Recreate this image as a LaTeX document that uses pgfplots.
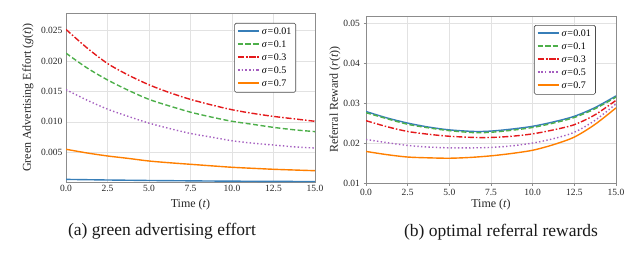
\documentclass[border=0pt]{standalone}
\usepackage{fontspec}
\setmainfont{Liberation Serif}
\usepackage{pgfplots}
\pgfplotsset{compat=1.18}
\definecolor{cBlue}{HTML}{377EB8}
\definecolor{cGreen}{HTML}{4DAF4A}
\definecolor{cRed}{HTML}{E41A1C}
\definecolor{cPurple}{HTML}{A55FC0}
\definecolor{cOrange}{HTML}{FF7F00}
\definecolor{cFrame}{HTML}{8C8C8C}
\definecolor{cGrid}{HTML}{E2E2E2}
\pgfplotsset{
  common/.style={
    anchor=south west, scale only axis,
    xmin=0, xmax=15,
    xtick={0,2.5,5,7.5,10,12.5,15},
    axis line style={cFrame, line width=0.8pt},
    grid=major, major grid style={cGrid, line width=0.6pt},
    tick label style={font=\fontsize{9.5}{11}\selectfont, text=black!85},
    label style={font=\fontsize{12}{14}\selectfont, text=black!85},
    /pgf/number format/assume math mode=true,
    xticklabel style={/pgf/number format/.cd, fixed, fixed zerofill, precision=1},
    xlabel={Time (\textit{t})},
    legend style={font=\fontsize{10}{12}\selectfont, draw=black!70, fill=white,
      rounded corners=1.5pt, inner xsep=2.5pt, inner ysep=2pt, row sep=0pt,
      line width=0.6pt, anchor=north east,
      nodes={text height=7.5pt, text depth=2.5pt, inner ysep=1.5pt}},
    legend cell align=left,
    legend image code/.code={\draw[#1, line width=1.8pt] plot coordinates {(0pt,0.5pt) (10.5pt,0.5pt) (21pt,0.5pt)};},
  },
  sA/.style={cBlue, solid, line width=1.4pt, smooth},
  sB/.style={cGreen, dash pattern=on 5pt off 2.5pt, line width=1.4pt, smooth},
  sC/.style={cRed, dash pattern=on 6pt off 2pt on 1.5pt off 2pt, line width=1.4pt, smooth},
  sD/.style={cPurple, dash pattern=on 1.4pt off 2.3pt, line width=1.4pt, smooth},
  sE/.style={cOrange, solid, line width=1.4pt, smooth},
}
\begin{document}
\begin{tikzpicture}[x=1pt,y=1pt]
\path[use as bounding box] (0,0) rectangle (636,252);
\begin{axis}[common,
  at={(66pt,70pt)}, width=249pt, height=169pt,
  ymin=0.00012, ymax=0.0279,
  ytick={0.005,0.010,0.015,0.020,0.025},
  yticklabel style={/pgf/number format/.cd, fixed, fixed zerofill, precision=3},
  scaled y ticks=false,
  major tick length=0pt,
  ylabel={Green Advertising Effort (\textit{g}(\textit{t}))},
  xlabel style={at={(axis description cs:0.5,-0.136)}, anchor=center},
  ylabel style={at={(axis description cs:-0.153,0.5)}, anchor=center},
  legend style={at={(axis description cs:0.924,0.941)}},
]
\addplot[sA] coordinates {(0,0.00055) (1.25,0.00050) (2.5,0.00045) (3.75,0.00041) (5,0.00037) (6.25,0.00034) (7.5,0.00031) (8.75,0.00028) (10,0.00026) (11.25,0.00024) (12.5,0.00022) (13.75,0.00021) (15,0.00020)};
\addlegendentry{\textit{σ}\kern0.5pt=\kern0.5pt0.01}
\addplot[sB] coordinates {(0,0.0213) (1.25,0.0189) (2.5,0.0169) (3.75,0.0152) (5,0.0137) (6.25,0.0126) (7.5,0.0116) (8.75,0.0108) (10,0.0101) (11.25,0.0096) (12.5,0.0091) (13.75,0.0087) (15,0.0084)};
\addlegendentry{\textit{σ}\kern0.5pt=\kern0.5pt0.1}
\addplot[sC] coordinates {(0,0.0252) (1.25,0.0222) (2.5,0.0196) (3.75,0.0177) (5,0.0161) (6.25,0.0148) (7.5,0.0137) (8.75,0.0128) (10,0.0120) (11.25,0.0114) (12.5,0.0109) (13.75,0.0105) (15,0.0101)};
\addlegendentry{\textit{σ}\kern0.5pt=\kern0.5pt0.3}
\addplot[sD] coordinates {(0,0.0153) (1.25,0.0136) (2.5,0.0121) (3.75,0.0109) (5,0.0098) (6.25,0.0089) (7.5,0.0081) (8.75,0.0075) (10,0.0069) (11.25,0.0065) (12.5,0.0062) (13.75,0.0059) (15,0.0057)};
\addlegendentry{\textit{σ}\kern0.5pt=\kern0.5pt0.5}
\addplot[sE] coordinates {(0,0.0055) (1.25,0.0049) (2.5,0.0044) (3.75,0.0040) (5,0.00357) (6.25,0.00328) (7.5,0.00303) (8.75,0.00278) (10,0.00254) (11.25,0.00237) (12.5,0.00221) (13.75,0.00209) (15,0.00198)};
\addlegendentry{\textit{σ}\kern0.5pt=\kern0.5pt0.7}
\end{axis}
\begin{axis}[common,
  at={(366pt,69pt)}, width=250pt, height=167pt,
  ymin=0.01, ymax=0.0518,
  ytick={0.01,0.02,0.03,0.04,0.05},
  yticklabel style={/pgf/number format/.cd, fixed, fixed zerofill, precision=2},
  scaled y ticks=false,
  tick align=outside, major tick length=2.5pt,
  every tick/.style={cFrame, line width=0.6pt},
  xtick pos=bottom, ytick pos=left,
  ylabel={Referral Reward (\textit{r}(\textit{t}))},
  xlabel style={at={(axis description cs:0.5,-0.132)}, anchor=center},
  ylabel style={at={(axis description cs:-0.124,0.5)}, anchor=center},
  legend style={at={(axis description cs:0.919,0.946)}},
]
\addplot[sA] coordinates {(0,0.0279) (1.25,0.0263) (2.5,0.0250) (3.75,0.0240) (5,0.0233) (6.5,0.0229) (7.5,0.0230) (8.75,0.0235) (10,0.0242) (11.25,0.0253) (12.5,0.0267) (13.75,0.0289) (15,0.0318)};
\addlegendentry{\textit{σ}\kern0.5pt=\kern0.5pt0.01}
\addplot[sB] coordinates {(0,0.0276) (1.25,0.0261) (2.5,0.0247) (3.75,0.0238) (5,0.0231) (6.5,0.0226) (7.5,0.0227) (8.75,0.0232) (10,0.0239) (11.25,0.0250) (12.5,0.0264) (13.75,0.0286) (15,0.0315)};
\addlegendentry{\textit{σ}\kern0.5pt=\kern0.5pt0.1}
\addplot[sC] coordinates {(0,0.0256) (1.25,0.0241) (2.5,0.0229) (3.75,0.0222) (5,0.0217) (6.5,0.0214) (7.5,0.0214) (8.75,0.0217) (10,0.0223) (11.25,0.0233) (12.5,0.0246) (13.75,0.0271) (15,0.0307)};
\addlegendentry{\textit{σ}\kern0.5pt=\kern0.5pt0.3}
\addplot[sD] coordinates {(0,0.0209) (1.25,0.0201) (2.5,0.0194) (3.75,0.0190) (5,0.0188) (6.25,0.0188) (7.5,0.0189) (8.75,0.0193) (10,0.0200) (11.25,0.0211) (12.5,0.0227) (13.75,0.0257) (15,0.0298)};
\addlegendentry{\textit{σ}\kern0.5pt=\kern0.5pt0.5}
\addplot[sE] coordinates {(0,0.0179) (1.25,0.0171) (2.5,0.0165) (3.75,0.0163) (5,0.0162) (6.25,0.0164) (7.5,0.0168) (8.75,0.0174) (10,0.0182) (11.25,0.0196) (12.5,0.0215) (13.75,0.0247) (15,0.0288)};
\addlegendentry{\textit{σ}\kern0.5pt=\kern0.5pt0.7}
\end{axis}
\node[font=\fontsize{17.5}{20}\selectfont, text=black!90] at (162,21) {(a) green advertising effort};
\node[font=\fontsize{17.5}{20}\selectfont, text=black!90] at (501,20) {(b) optimal referral rewards};
\end{tikzpicture}
\end{document}
